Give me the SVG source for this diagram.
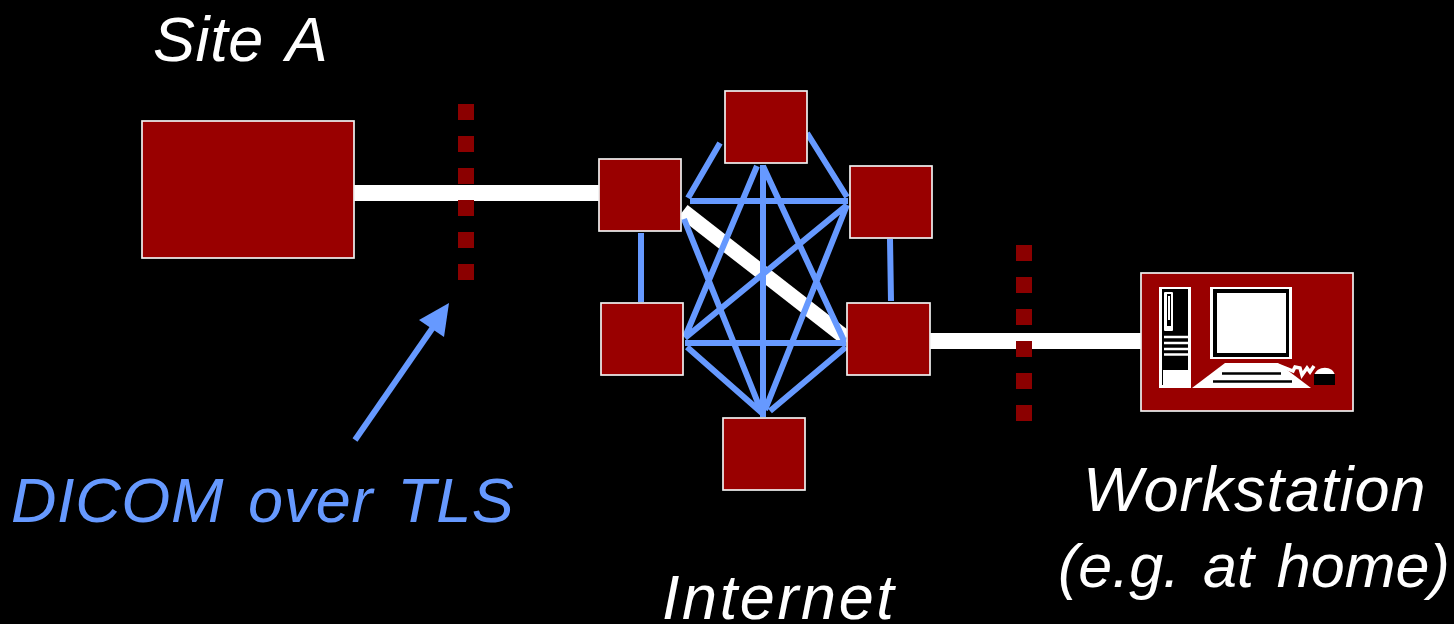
<svg xmlns="http://www.w3.org/2000/svg" width="1454" height="624" viewBox="0 0 1454 624">
<style>
.n{fill:#990000;stroke:#f0f0f0;stroke-width:1.7}
.d{fill:#8b0000}
.w{stroke:#fff;fill:none}
.b{stroke:#6699ff;stroke-width:6;fill:none}
.k{fill:#000}
.f{fill:#fff}
text{font-family:"Liberation Sans",Arial,sans-serif;font-style:italic;font-size:63px;fill:#fff;word-spacing:6px;letter-spacing:.6px}
</style>
<rect width="1454" height="624" fill="#000"/>
<g id="connectors">
<path class="w" stroke-width="16" d="M354 193H600M930 341H1142"/>
<path class="w" stroke-width="15" d="M683 211L846 338"/>
<path class="b" d="M720 143L688 198M807 133L847 197M690 201H848M757 166L685 337M763 165V417M763 166L845 343M847 205L685 338M847 205L765 410M684 219L762 413M685 343H846M687 347L762 413M846 347L770 411"/>
<path class="b" d="M641 233V302M890 239L891 301"/>
<path class="b" d="M355 440L436 323"/>
<path d="M419 320L449 303L444 337Z" fill="#6699ff"/>
</g>
<g id="firewall-a">
<rect class="d" x="458" y="104" width="16" height="16"/><rect class="d" x="458" y="136" width="16" height="16"/><rect class="d" x="458" y="168" width="16" height="16"/><rect class="d" x="458" y="200" width="16" height="16"/><rect class="d" x="458" y="232" width="16" height="16"/><rect class="d" x="458" y="264" width="16" height="16"/>
</g>
<g id="firewall-b">
<rect class="d" x="1016" y="245" width="16" height="16"/><rect class="d" x="1016" y="277" width="16" height="16"/><rect class="d" x="1016" y="309" width="16" height="16"/><rect class="d" x="1016" y="341" width="16" height="16"/><rect class="d" x="1016" y="373" width="16" height="16"/><rect class="d" x="1016" y="405" width="16" height="16"/>
</g>
<g id="site-a"><rect class="n" x="142" y="121" width="212" height="137"/></g>
<g id="router-w"><rect class="n" x="599" y="159" width="82" height="72"/></g>
<g id="router-t"><rect class="n" x="725" y="91" width="82" height="72"/></g>
<g id="router-e"><rect class="n" x="850" y="166" width="82" height="72"/></g>
<g id="router-sw"><rect class="n" x="601" y="303" width="82" height="72"/></g>
<g id="router-se"><rect class="n" x="847" y="303" width="83" height="72"/></g>
<g id="router-s"><rect class="n" x="723" y="418" width="82" height="72"/></g>
<g id="workstation">
<rect class="n" x="1141" y="273" width="212" height="138"/>
<rect class="f" x="1159" y="287" width="32" height="101"/>
<rect class="k" x="1162" y="289" width="26" height="96"/>
<rect class="f" x="1164" y="292" width="9" height="39" rx="1"/>
<rect class="k" x="1167" y="294" width="4" height="32"/>
<rect class="f" x="1168" y="296" width="2" height="24"/>
<path d="M1164 337H1188M1164 343H1188M1164 349H1188M1164 354.500H1188" stroke="#fff" stroke-width="2.400" fill="none"/>
<rect class="f" x="1163" y="370" width="25" height="15"/>
<rect class="f" x="1210" y="287" width="82" height="72"/>
<rect class="k" x="1213" y="289" width="76" height="68"/>
<rect class="f" x="1217" y="293" width="69" height="60"/>
<path class="f" d="M1192 388L1225 363H1278L1311 388Z"/>
<path d="M1222 373.500H1281M1213 381.500H1292" stroke="#000" stroke-width="2.600" fill="none"/>
<path d="M1278 365L1293 371L1295 367L1300 368L1302 375L1307 368L1310 372L1314 366" stroke="#fff" stroke-width="3.500" fill="none"/>
<path class="f" d="M1314 376C1316 365 1334 365 1335 376Z"/>
<rect class="k" x="1314" y="374" width="21" height="11"/>
</g>
<text x="153" y="61">Site A</text>
<text x="11" y="522" style="fill:#6699ff">DICOM over TLS</text>
<text x="662" y="619" style="letter-spacing:2.600px">Internet</text>
<text x="1083" y="511" style="letter-spacing:1px">Workstation</text>
<text x="1058" y="587" style="font-size:61px;letter-spacing:0">(e.g. at home)</text>
</svg>
